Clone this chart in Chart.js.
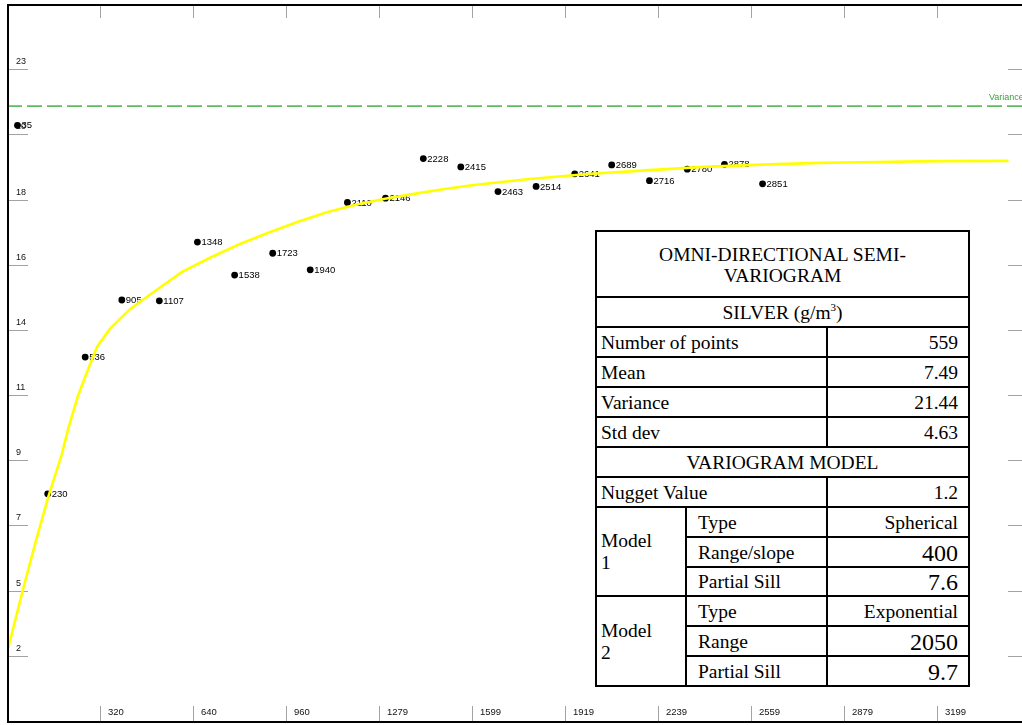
<!DOCTYPE html>
<html>
<head>
<meta charset="utf-8">
<title>Omni-directional semi-variogram</title>
<script src="https://cdn.jsdelivr.net/npm/chart.js@4.4.1/dist/chart.umd.min.js"></script>
<style>
  html, body { margin: 0; padding: 0; background: #fff; overflow: hidden; width: 1022px; height: 725px; }
  #plot { position: absolute; left: 0; top: 0; width: 1036px; height: 725px; }
  #stats {
    position: absolute; left: 595px; top: 230px; width: 373px;
    border-collapse: collapse; table-layout: fixed; background: #fff;
    font-family: 'Liberation Serif', 'Times New Roman', serif; font-size: 19.5px; color: #000;
  }
  #stats td { border: 2px solid #000; padding: 1px 10px 0 4px; height: 27px; line-height: 22px; white-space: nowrap; overflow: hidden; }
  #stats td.c { text-align: center; padding-left: 0; padding-right: 0; }
  #stats td.r { text-align: right; }
  #stats td.k { padding-left: 11px; }
  #stats td.big { font-size: 24px; }
  #stats tr.head td { height: 62px; line-height: 21px; padding-top: 2px; }
  #stats tr.tight td { height: 26px; }
  #stats sup { font-size: 11px; vertical-align: 8px; line-height: 0; }
</style>
</head>
<body>
<div id="plot"><canvas id="chart"></canvas></div>
<table id="stats">
  <colgroup><col style="width:90px"><col style="width:141px"><col style="width:142px"></colgroup>
  <tbody id="statsBody"></tbody>
</table>
<script>
// Axis extents: both axes are split into 11 equal divisions
const xMax = 3519;
const yMax = 25;
const tickDivisions = 11;
const xTickLabels = ['320', '640', '960', '1279', '1599', '1919', '2239', '2559', '2879', '3199'];
const yTickLabels = ['2', '5', '7', '9', '11', '14', '16', '18', '20', '23'];

// Experimental semi-variogram: lag distance, semivariance and number of pairs
const lagDistance = [36, 140, 269, 395, 524, 655, 783, 914, 1043, 1171, 1302, 1432, 1561, 1689, 1820, 1953, 2080, 2210, 2340, 2468, 2599];
const semivariance = [20.77, 7.92, 12.69, 14.68, 14.65, 16.70, 15.55, 16.31, 15.73, 18.08, 18.23, 19.61, 19.32, 18.46, 18.64, 19.08, 19.39, 18.84, 19.24, 19.41, 18.73];
const pairCounts = [35, 230, 536, 905, 1107, 1348, 1538, 1723, 1940, 2110, 2146, 2228, 2415, 2463, 2514, 2641, 2689, 2716, 2780, 2878, 2851];

// Fitted model curve (nugget + spherical + exponential)
const modelLag = [0, 54, 96, 141, 188, 211, 245, 280, 310, 354, 423, 502, 602, 702, 801, 901, 1001, 1100, 1200, 1300, 1400, 1499, 1599, 1798, 1998, 2197, 2397, 2596, 2796, 2995, 3195, 3445];
const modelGamma = [2.38, 4.55, 6.15, 7.78, 9.28, 10.21, 11.36, 12.29, 13.05, 13.67, 14.36, 14.94, 15.66, 16.17, 16.63, 17.03, 17.41, 17.74, 18.00, 18.21, 18.38, 18.54, 18.68, 18.90, 19.07, 19.20, 19.32, 19.40, 19.46, 19.49, 19.52, 19.53];

// Summary statistics and model parameters
const sampleStats = [['Number of points', '559'], ['Mean', '7.49'], ['Variance', '21.44'], ['Std dev', '4.63']];
const sampleVariance = 21.44;
const nuggetValue = '1.2';
const modelParams = [
  { name: 'Model<br>1', type: 'Spherical', rangeLabel: 'Range/slope', range: '400', sill: '7.6' },
  { name: 'Model<br>2', type: 'Exponential', rangeLabel: 'Range', range: '2050', sill: '9.7' }
];

// Build the statistics table
(function buildTable() {
  const rows = [];
  rows.push('<tr class="head"><td class="c" colspan="3">OMNI-DIRECTIONAL SEMI-<br>VARIOGRAM</td></tr>');
  rows.push('<tr><td class="c" colspan="3">SILVER (g/m<sup>3</sup>)</td></tr>');
  sampleStats.forEach(s => rows.push('<tr><td colspan="2">' + s[0] + '</td><td class="r">' + s[1] + '</td></tr>'));
  rows.push('<tr><td class="c" colspan="3">VARIOGRAM MODEL</td></tr>');
  rows.push('<tr><td colspan="2">Nugget Value</td><td class="r">' + nuggetValue + '</td></tr>');
  modelParams.forEach((m, idx) => {
    rows.push('<tr><td rowspan="3">' + m.name + '</td><td class="k">Type</td><td class="r">' + m.type + '</td></tr>');
    rows.push('<tr><td class="k">' + m.rangeLabel + '</td><td class="r big">' + m.range + '</td></tr>');
    rows.push('<tr' + (idx === 0 ? ' class="tight"' : '') + '><td class="k">Partial Sill</td><td class="r big">' + m.sill + '</td></tr>');
  });
  document.getElementById('statsBody').innerHTML = rows.join('');
})();

const tickGray = '#a3a3a3';
const labelFont = "9.5px 'Liberation Sans', Arial, sans-serif";
const yLabelFont = "9px 'Liberation Sans', Arial, sans-serif";

// Axis ticks drawn inward from the frame, with labels inside the plot
const axisTicks = {
  id: 'axisTicks',
  beforeDatasetsDraw(chart) {
    const { ctx, chartArea: a, scales: { x, y } } = chart;
    ctx.save();
    ctx.strokeStyle = tickGray;
    ctx.lineWidth = 1;
    ctx.fillStyle = '#111';
    for (let k = 1; k <= yTickLabels.length; k++) {
      const py = Math.round(y.getPixelForValue(yMax * k / tickDivisions)) + 0.5;
      ctx.beginPath();
      ctx.moveTo(a.left + 1, py); ctx.lineTo(a.left + 21, py);
      ctx.moveTo(a.right - 22, py); ctx.lineTo(a.right, py);
      ctx.stroke();
      ctx.font = yLabelFont;
      ctx.textAlign = 'left';
      ctx.textBaseline = 'alphabetic';
      ctx.fillText(yTickLabels[k - 1], a.left + 9, py - 5.5);
    }
    for (let k = 1; k <= xTickLabels.length; k++) {
      const px = Math.round(x.getPixelForValue(xMax * k / tickDivisions)) + 0.5;
      ctx.beginPath();
      ctx.moveTo(px, a.top + 1); ctx.lineTo(px, a.top + 14);
      ctx.moveTo(px, a.bottom - 15); ctx.lineTo(px, a.bottom);
      ctx.stroke();
      ctx.font = labelFont;
      ctx.textAlign = 'left';
      ctx.textBaseline = 'middle';
      ctx.fillText(xTickLabels[k - 1], px + 7.5, a.bottom - 9);
    }
    ctx.restore();
  },
  // pair-count labels sit beside each point, under the model curve
  afterDatasetDraw(chart, args) {
    const ds = chart.data.datasets[args.index];
    const { ctx } = chart;
    if (ds.pairLabels) {
      const meta = chart.getDatasetMeta(args.index);
      ctx.save();
      ctx.font = labelFont;
      ctx.fillStyle = '#000';
      ctx.textAlign = 'left';
      ctx.textBaseline = 'middle';
      meta.data.forEach((pt, i) => ctx.fillText(String(ds.pairLabels[i]), pt.x + 4, pt.y + 0.5));
      ctx.restore();
    }
    if (ds.endLabel) {
      const meta = chart.getDatasetMeta(args.index);
      const last = meta.data[meta.data.length - 1];
      const a = chart.chartArea;
      ctx.save();
      ctx.font = yLabelFont;
      ctx.fillStyle = '#3f9f3f';
      ctx.textAlign = 'left';
      ctx.textBaseline = 'middle';
      ctx.fillText(ds.endLabel, a.right - 41, last.y - 8.5);
      ctx.restore();
    }
  },
  afterDraw(chart) {
    const { ctx, chartArea: a } = chart;
    ctx.save();
    ctx.strokeStyle = '#000';
    ctx.lineWidth = 2;
    ctx.strokeRect(a.left + 1, a.top + 1, a.right - a.left, a.bottom - a.top);
    ctx.restore();
  }
};

new Chart(document.getElementById('chart'), {
  type: 'scatter',
  data: {
    datasets: [
      {
        type: 'line',
        label: 'Model',
        data: modelLag.map((h, i) => ({ x: h, y: modelGamma[i] })),
        borderColor: '#ffff00',
        borderWidth: 2.6,
        pointRadius: 0,
        fill: false,
        tension: 0
      },
      {
        type: 'line',
        label: 'Variance',
        data: [{ x: 0, y: sampleVariance }, { x: xMax, y: sampleVariance }],
        borderColor: 'rgb(98,186,98)',
        borderWidth: 1.6,
        borderDash: [15, 5],
        pointRadius: 0,
        fill: false,
        endLabel: 'Variance'
      },
      {
        label: 'Semivariance',
        data: lagDistance.map((h, i) => ({ x: h, y: semivariance[i] })),
        backgroundColor: '#000',
        borderWidth: 0,
        pointRadius: 3.4,
        pairLabels: pairCounts
      }
    ]
  },
  options: {
    responsive: true,
    maintainAspectRatio: false,
    animation: false,
    events: [],
    layout: { padding: { left: 7, top: 3, right: 6, bottom: 0.4 } },
    plugins: { legend: { display: false }, tooltip: { enabled: false }, title: { display: false } },
    scales: {
      x: { type: 'linear', min: 0, max: xMax, display: false },
      y: { type: 'linear', min: 0, max: yMax, display: false }
    }
  },
  plugins: [axisTicks]
});
</script>
</body>
</html>
